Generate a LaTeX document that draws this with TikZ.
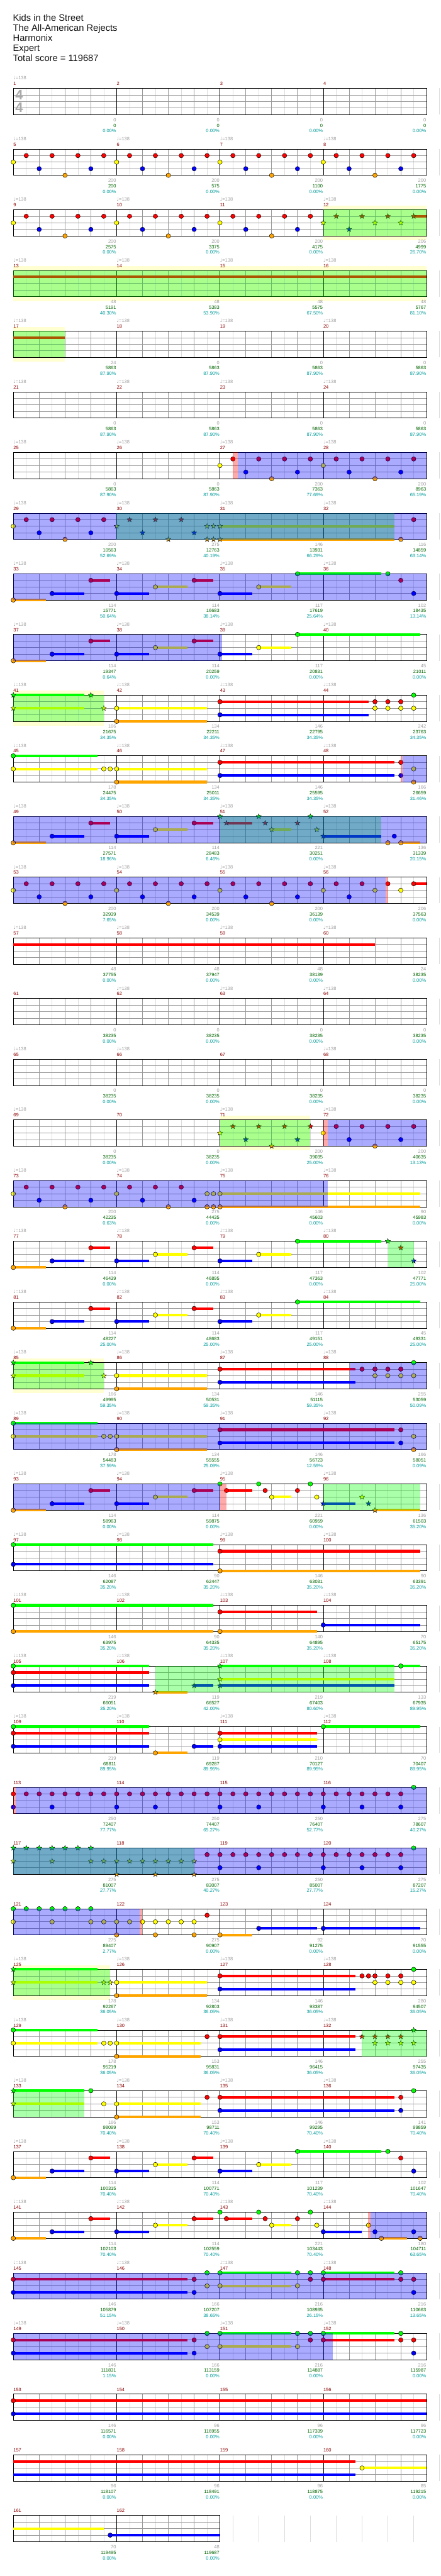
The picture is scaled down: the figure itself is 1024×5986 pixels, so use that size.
\documentclass[tikz,border=0pt]{standalone}
\usepackage{fontspec}
\setmainfont{Liberation Sans}
\newfontfamily\djv{DejaVu Sans}
\usetikzlibrary{shapes.geometric}
\definecolor{L0}{RGB}{0,255,0}
\definecolor{L1}{RGB}{255,0,0}
\definecolor{L2}{RGB}{255,255,0}
\definecolor{L3}{RGB}{0,0,255}
\definecolor{L4}{RGB}{255,165,0}
\definecolor{bandc}{RGB}{255,255,210}
\definecolor{gline}{RGB}{153,153,153}
\definecolor{hline}{RGB}{221,221,221}
\definecolor{mred}{RGB}{139,0,0}
\definecolor{sgray}{RGB}{160,160,160}
\definecolor{sgreen}{RGB}{0,100,0}
\definecolor{steal}{RGB}{0,155,155}
\definecolor{tsg}{RGB}{170,170,170}
\definecolor{hdr}{RGB}{20,20,20}

\newcommand{\setrow}[1]{\pgfmathsetmacro{\T}{205.3+141*(#1-1)}}
\newcommand{\grid}[1]{%
  \pgfmathsetmacro{\W}{240*#1}%
  \pgfmathtruncatemacro{\nh}{8*#1-1}%
  \foreach \k in {0,...,\nh} {\draw[hb] ({61+60*\k},\T) -- ++(0,61);}%
  \pgfmathtruncatemacro{\nb}{4*#1-1}%
  \foreach \k in {1,...,\nb} {\draw[bt] ({31+60*\k},\T) -- ++(0,61);}%
  \foreach \l in {1,2,3} {\draw[bt] (31,{\T+15.25*\l}) -- ++(\W,0);}%
  \pgfmathtruncatemacro{\nm}{#1-1}%
  \foreach \k in {1,...,\nm} {\draw[ml] ({31+240*\k},\T) -- ++(0,61);}%
  \draw[ml] (31,\T) rectangle ++(\W,61);}
\newcommand{\nt}[2]{\filldraw[nte, fill=L#2] ({31+60*(#1)},{\T+15.25*#2}) circle[radius=5.2];}
\newcommand{\sr}[2]{\node[strn, fill=L#2] at ({31+60*(#1)},{\T+15.25*#2}) {};}
\newcommand{\su}[3]{\fill[L#3] ({31+60*(#1)},{\T+15.25*#3-3}) rectangle ({31+60*(#2)},{\T+15.25*#3+3});}
\newcommand{\gov}[2]{\fill[green, opacity=0.333] ({31+60*(#1)},\T) rectangle ({31+60*(#2)},{\T+61});}
\newcommand{\bov}[2]{\fill[blue, opacity=0.333] ({31+60*(#1)},\T) rectangle ({31+60*(#2)},{\T+61});}
\newcommand{\pov}[2]{\fill[red, opacity=0.333] ({31+60*(#1)},\T) rectangle ({31+60*(#2)},{\T+61});}
\newcommand{\band}[2]{\fill[bandc] ({31+60*(#1)},{\T-10}) rectangle ({31+60*(#2)},{\T+71});}
\newcommand{\M}[6]{%
  \pgfmathsetmacro{\xs}{31+240*#1}%
  \pgfmathsetmacro{\xe}{30+240*(#1+1)}%
  \node[mnum] at (\xs,{\T-7}) {#2};%
  \ifnum#3=1\relax\node[tmp] at (\xs,{\T-20}) {{\djv ♩}=138};\fi
  \node[sa] at (\xe,{\T+77}) {#4};%
  \node[sb] at (\xe,{\T+90}) {#5};%
  \node[sc] at (\xe,{\T+103}) {#6};}
\newcommand{\patA}[1]{\nt{#1}{2}\nt{#1+0.5}{1}\nt{#1+1}{3}\nt{#1+1.5}{1}\nt{#1+2}{4}\nt{#1+2.5}{1}\nt{#1+3}{3}\nt{#1+3.5}{1}}
\newcommand{\patB}{\su{0}{1.25}{4}\su{1.5}{2.75}{3}\su{3}{3.75}{1}\su{4}{5.25}{3}\su{5.5}{6.75}{2}\su{7}{7.75}{1}\nt{0}{4}\nt{1.5}{3}\nt{3}{1}\nt{4}{3}\nt{5.5}{2}\nt{7}{1}}
\newcommand{\patC}{\su{8}{9.25}{3}\su{9.5}{10.75}{2}\nt{8}{3}\nt{9.5}{2}}
\newcommand{\patD}{\su{0}{6.75}{1}\su{0}{6.75}{3}\su{8}{10.75}{0}\su{8}{10.75}{2}\su{12}{14.75}{0}\su{12}{14.75}{1}%
  \nt{0}{1}\nt{0}{3}\nt{7}{1}\nt{7}{3}\nt{7.5}{0}\nt{7.5}{2}\nt{8}{0}\nt{8}{2}\nt{11}{0}\nt{11}{2}\nt{11.5}{0}\nt{11.5}{1}\nt{12}{0}\nt{12}{1}\nt{15}{0}\nt{15}{1}\nt{15.5}{1}\nt{15.5}{3}}
\newcommand{\patE}{\su{0}{3.25}{0}\su{0}{3.25}{2}\su{4}{7.5}{2}\su{4}{7.5}{4}\su{8}{14.75}{1}\su{8}{14.75}{3}%
  \nt{0}{0}\nt{0}{2}\nt{3.5}{2}\nt{3.75}{2}\nt{4}{2}\nt{4}{4}\nt{8}{1}\nt{8}{3}\nt{15}{1}\nt{15}{3}\nt{15.5}{2}\nt{15.5}{4}}

\begin{document}
\begin{tikzpicture}[x=1pt,y=-1pt,
  hb/.style={hline, line width=1pt},
  bt/.style={gline, line width=1pt},
  ml/.style={black, line width=1pt},
  nte/.style={draw=black, line width=0.7pt},
  strn/.style={star, star points=5, star point ratio=2.4, minimum size=12.5pt, inner sep=0pt, draw=black, line width=0.6pt},
  lab/.style={inner sep=0pt, font=\fontsize{11}{11}\selectfont},
  mnum/.style={lab, anchor=base west, text=mred},
  tmp/.style={lab, anchor=base west, text=sgray},
  sa/.style={lab, anchor=base east, text=sgray},
  sb/.style={lab, anchor=base east, text=sgreen},
  sc/.style={lab, anchor=base east, text=steal},
  ts/.style={inner sep=0pt, text=tsg, font=\fontsize{32}{32}\selectfont\bfseries},
  hd/.style={anchor=base west, inner sep=0pt, text=hdr, font=\fontsize{21.5}{23}\selectfont}]
\fill[white] (0,0) rectangle (1024,5986);
\useasboundingbox (0,0) rectangle (1024,5986);
\node[hd] (t1) at (30,49) {Kids in the Street};
\node[hd] (t2) at (30,72.2) {The All-American Rejects};
\node[hd] (t3) at (30,95.4) {Harmonix};
\node[hd] (t4) at (30,118.6) {Expert};
\node[hd] (t5) at (30,141.8) {Total score = 119687};

% row 1
\setrow{1}\grid{4}
\node[ts] at (44.5,{\T+15.7}) {4};\node[ts] at (44.5,{\T+44.7}) {4};
\M{0}{1}{1}{0}{0}{0.00\%}\M{1}{2}{0}{0}{0}{0.00\%}\M{2}{3}{0}{0}{0}{0.00\%}\M{3}{4}{0}{0}{0}{0.00\%}
% row 2
\setrow{2}\grid{4}\patA{0}\patA{4}\patA{8}\patA{12}
\M{0}{5}{1}{200}{200}{0.00\%}\M{1}{6}{1}{200}{575}{0.00\%}\M{2}{7}{1}{200}{1100}{0.00\%}\M{3}{8}{1}{200}{1775}{0.00\%}
% row 3
\setrow{3}\band{12}{16}\grid{4}\patA{0}\patA{4}\patA{8}\su{15.5}{16}{1}
\sr{12}{2}\sr{12.5}{1}\sr{13}{3}\sr{13.5}{1}\sr{14}{2}\sr{14.5}{1}\sr{15}{2}\sr{15.5}{1}
\gov{12}{16}
\M{0}{9}{1}{200}{2575}{0.00\%}\M{1}{10}{1}{200}{3375}{0.00\%}\M{2}{11}{1}{200}{4175}{0.00\%}\M{3}{12}{1}{206}{4999}{26.70\%}
% row 4
\setrow{4}\band{0}{16}\grid{4}\su{0}{16}{1}\gov{0}{16}
\M{0}{13}{1}{48}{5191}{40.30\%}\M{1}{14}{1}{48}{5383}{53.90\%}\M{2}{15}{1}{48}{5575}{67.50\%}\M{3}{16}{1}{48}{5767}{81.10\%}
% row 5
\setrow{5}\band{0}{2}\grid{4}\su{0}{2}{1}\gov{0}{2}
\M{0}{17}{1}{24}{5863}{87.90\%}\M{1}{18}{1}{0}{5863}{87.90\%}\M{2}{19}{1}{0}{5863}{87.90\%}\M{3}{20}{1}{0}{5863}{87.90\%}
% row 6
\setrow{6}\grid{4}
\M{0}{21}{1}{0}{5863}{87.90\%}\M{1}{22}{1}{0}{5863}{87.90\%}\M{2}{23}{1}{0}{5863}{87.90\%}\M{3}{24}{1}{0}{5863}{87.90\%}
% row 7
\setrow{7}\grid{4}\patA{8}\patA{12}\pov{8.5}{8.7}\bov{8.7}{16}
\M{0}{25}{1}{0}{5863}{87.90\%}\M{1}{26}{1}{0}{5863}{87.90\%}\M{2}{27}{1}{200}{7363}{77.69\%}\M{3}{28}{1}{200}{8963}{65.19\%}
% row 8
\setrow{8}\grid{4}\patA{0}\su{8}{14.75}{2}\su{8}{14.75}{4}
\sr{4}{2}\sr{4.5}{1}\sr{5}{3}\sr{5.5}{1}\sr{6}{4}\sr{6.5}{1}\sr{7}{3}\sr{7.5}{2}\sr{7.5}{4}\sr{7.75}{2}\sr{7.75}{4}\sr{8}{2}\sr{8}{4}
\nt{15}{4}\nt{15.5}{1}
\gov{4}{14.75}\bov{0}{16}
\M{0}{29}{1}{200}{10563}{52.69\%}\M{1}{30}{1}{275}{12763}{40.19\%}\M{2}{31}{1}{146}{13931}{66.29\%}\M{3}{32}{1}{116}{14859}{63.14\%}
% row 9
\setrow{9}\grid{4}\patB\patC\su{11}{14.25}{0}\nt{11}{0}\nt{14.5}{0}\nt{15}{1}\nt{15.5}{3}\bov{0}{16}
\M{0}{33}{1}{114}{15771}{50.64\%}\M{1}{34}{1}{114}{16683}{38.14\%}\M{2}{35}{1}{117}{17619}{25.64\%}\M{3}{36}{1}{102}{18435}{13.14\%}
% row 10
\setrow{10}\grid{4}\patB\patC\su{11}{15.75}{0}\nt{11}{0}\bov{0}{8.07}
\M{0}{37}{1}{114}{19347}{0.64\%}\M{1}{38}{1}{114}{20259}{0.00\%}\M{2}{39}{1}{117}{20831}{0.00\%}\M{3}{40}{1}{45}{21011}{0.00\%}
% row 11
\setrow{11}\band{0}{3.5}\grid{4}
\su{0}{2.75}{0}\su{0}{2.75}{2}\su{4}{7.5}{2}\su{4}{7.5}{4}\su{8}{13.75}{1}\su{8}{13.75}{3}
\sr{0}{0}\sr{3}{0}\sr{0}{2}\sr{3.5}{2}
\nt{4}{2}\nt{4}{4}\nt{8}{1}\nt{8}{3}\nt{14}{1}\nt{14.5}{1}\nt{15}{1}\nt{14}{2}\nt{14.5}{2}\nt{15}{2}\nt{15.5}{2}\nt{15.5}{0}
\gov{0}{3.5}
\M{0}{41}{1}{166}{21675}{34.35\%}\M{1}{42}{1}{134}{22211}{34.35\%}\M{2}{43}{1}{146}{22795}{34.35\%}\M{3}{44}{1}{242}{23763}{34.35\%}
% row 12
\setrow{12}\grid{4}\patE\pov{15}{15.07}\bov{15.07}{16}
\M{0}{45}{1}{178}{24475}{34.35\%}\M{1}{46}{1}{134}{25011}{34.35\%}\M{2}{47}{1}{146}{25595}{34.35\%}\M{3}{48}{1}{166}{26659}{31.46\%}
% row 13
\setrow{13}\grid{4}\patB
\su{8.25}{9.25}{1}\su{10}{10.75}{2}\su{12}{14.25}{3}\su{15}{15.75}{4}
\sr{8}{0}\sr{8.25}{1}\sr{9.5}{0}\sr{9.75}{1}\sr{10}{2}\sr{11}{1}\sr{11.5}{0}\sr{11.75}{2}\sr{12}{3}
\nt{14.5}{4}\nt{14.75}{3}\nt{15}{4}
\gov{8}{14.25}\bov{0}{16}
\M{0}{49}{1}{114}{27571}{18.96\%}\M{1}{50}{1}{114}{28483}{6.46\%}\M{2}{51}{1}{221}{30251}{0.00\%}\M{3}{52}{1}{136}{31339}{20.15\%}
% row 14
\setrow{14}\grid{4}\patA{0}\patA{4}\patA{8}\su{15.5}{16}{1}
\nt{12}{2}\nt{12.5}{1}\nt{13}{3}\nt{13.5}{1}\nt{14}{2}\nt{14.5}{1}\nt{15}{2}\nt{15.5}{1}
\bov{0}{14.42}\pov{14.42}{14.5}
\M{0}{53}{1}{200}{32939}{7.65\%}\M{1}{54}{1}{200}{34539}{0.00\%}\M{2}{55}{1}{200}{36139}{0.00\%}\M{3}{56}{1}{206}{37563}{0.00\%}
% row 15
\setrow{15}\grid{4}\su{0}{14}{1}
\M{0}{57}{1}{48}{37755}{0.00\%}\M{1}{58}{1}{48}{37947}{0.00\%}\M{2}{59}{1}{48}{38139}{0.00\%}\M{3}{60}{1}{24}{38235}{0.00\%}
% row 16
\setrow{16}\grid{4}
\M{0}{61}{0}{0}{38235}{0.00\%}\M{1}{62}{1}{0}{38235}{0.00\%}\M{2}{63}{1}{0}{38235}{0.00\%}\M{3}{64}{1}{0}{38235}{0.00\%}
% row 17
\setrow{17}\grid{4}
\M{0}{65}{1}{0}{38235}{0.00\%}\M{1}{66}{1}{0}{38235}{0.00\%}\M{2}{67}{0}{0}{38235}{0.00\%}\M{3}{68}{1}{0}{38235}{0.00\%}
% row 18
\setrow{18}\band{8}{11.5}\grid{4}
\sr{8}{2}\sr{8.5}{1}\sr{9}{3}\sr{9.5}{1}\sr{10}{4}\sr{10.5}{1}\sr{11}{3}\sr{11.5}{1}
\patA{12}
\gov{8}{11.5}\pov{12}{12.18}\bov{12.18}{16}
\M{0}{69}{1}{0}{38235}{0.00\%}\M{1}{70}{0}{0}{38235}{0.00\%}\M{2}{71}{1}{200}{39035}{25.00\%}\M{3}{72}{1}{200}{40635}{13.13\%}
% row 19
\setrow{19}\grid{4}\patA{0}\su{8}{15.75}{2}\su{8}{15.75}{4}
\nt{4}{2}\nt{4.5}{1}\nt{5}{3}\nt{5.5}{1}\nt{6}{4}\nt{6.5}{1}\nt{7}{3}
\nt{7.5}{2}\nt{7.5}{4}\nt{7.75}{2}\nt{7.75}{4}\nt{8}{2}\nt{8}{4}
\bov{0}{12.18}
\M{0}{73}{1}{200}{42235}{0.63\%}\M{1}{74}{1}{275}{44435}{0.00\%}\M{2}{75}{1}{146}{45603}{0.00\%}\M{3}{76}{1}{90}{45983}{0.00\%}
% row 20
\setrow{20}\grid{4}\patB\patC\su{11}{14.25}{0}\nt{11}{0}\sr{14.5}{0}\sr{15}{1}\sr{15.5}{3}\gov{14.5}{15.5}
\M{0}{77}{1}{114}{46439}{0.00\%}\M{1}{78}{1}{114}{46895}{0.00\%}\M{2}{79}{1}{117}{47363}{0.00\%}\M{3}{80}{1}{102}{47771}{25.00\%}
% row 21
\setrow{21}\grid{4}\patB\patC\su{11}{15.75}{0}\nt{11}{0}
\M{0}{81}{1}{114}{48227}{25.00\%}\M{1}{82}{1}{114}{48683}{25.00\%}\M{2}{83}{1}{117}{49151}{25.00\%}\M{3}{84}{1}{45}{49331}{25.00\%}
% row 22
\setrow{22}\band{0}{3.5}\grid{4}
\su{0}{2.75}{0}\su{0}{2.75}{2}\su{4}{7.5}{2}\su{4}{7.5}{4}\su{8}{13.25}{1}\su{8}{13.25}{3}
\sr{0}{0}\sr{3}{0}\sr{0}{2}\sr{3.5}{2}
\nt{4}{2}\nt{4}{4}\nt{8}{1}\nt{8}{3}\nt{13.5}{1}\nt{14}{1}\nt{14.5}{1}\nt{15}{1}\nt{14}{2}\nt{14.5}{2}\nt{15}{2}\nt{15.5}{2}\nt{15.5}{0}
\gov{0}{3.5}\bov{13.03}{16}
\M{0}{85}{1}{166}{49995}{59.35\%}\M{1}{86}{1}{134}{50531}{59.35\%}\M{2}{87}{1}{146}{51115}{59.35\%}\M{3}{88}{1}{255}{53059}{50.09\%}
% row 23
\setrow{23}\grid{4}\patE\bov{0}{16}
\M{0}{89}{1}{178}{54483}{37.59\%}\M{1}{90}{1}{134}{55555}{25.09\%}\M{2}{91}{1}{146}{56723}{12.59\%}\M{3}{92}{1}{166}{58051}{0.09\%}
% row 24
\setrow{24}\grid{4}\patB
\su{8.25}{9.25}{1}\su{10}{10.75}{2}\su{12}{13.25}{3}\su{14}{15.75}{4}
\nt{8}{0}\nt{8.25}{1}\nt{9.5}{0}\nt{9.75}{1}\nt{10}{2}\nt{11}{1}\nt{11.5}{0}\nt{11.75}{2}
\sr{12}{3}\sr{13.5}{2}\sr{13.75}{3}\sr{14}{4}
\bov{0}{8}\pov{8}{8.25}\gov{12}{15.75}
\M{0}{93}{1}{114}{58963}{0.00\%}\M{1}{94}{1}{114}{59875}{0.00\%}\M{2}{95}{1}{221}{60959}{0.00\%}\M{3}{96}{1}{136}{61503}{35.20\%}
% row 25
\setrow{25}\grid{4}\su{0}{7.75}{0}\su{0}{7.75}{3}\su{8}{15.75}{1}\su{8}{15.75}{4}\nt{0}{0}\nt{0}{3}\nt{8}{1}\nt{8}{4}
\M{0}{97}{1}{146}{62087}{35.20\%}\M{1}{98}{1}{90}{62447}{35.20\%}\M{2}{99}{1}{146}{63031}{35.20\%}\M{3}{100}{1}{90}{63391}{35.20\%}
% row 26
\setrow{26}\grid{4}\su{0}{7.75}{0}\su{0}{7.75}{4}\su{8}{11.75}{1}\su{8}{11.75}{4}\su{12}{15.75}{3}\nt{0}{0}\nt{0}{4}\nt{8}{1}\nt{8}{4}\nt{12}{3}
\M{0}{101}{1}{146}{63975}{35.20\%}\M{1}{102}{1}{90}{64335}{35.20\%}\M{2}{103}{1}{140}{64895}{35.20\%}\M{3}{104}{1}{70}{65175}{35.20\%}
% row 27
\setrow{27}\grid{4}
\su{0}{5.25}{0}\su{0}{5.25}{1}\su{0}{5.25}{3}\su{5.5}{6.75}{4}\su{7}{7.75}{3}\su{8}{14.75}{0}\su{8}{14.75}{2}\su{8}{14.75}{3}\su{15}{15.75}{0}
\nt{0}{0}\nt{0}{1}\nt{0}{3}\nt{15}{0}
\sr{5.5}{4}\sr{7}{3}\sr{8}{0}\sr{8}{2}\sr{8}{3}
\gov{5.5}{14.75}
\M{0}{105}{1}{219}{66051}{35.20\%}\M{1}{106}{1}{119}{66527}{42.00\%}\M{2}{107}{1}{219}{67403}{80.60\%}\M{3}{108}{1}{133}{67935}{89.95\%}
% row 28
\setrow{28}\grid{4}
\su{0}{5.25}{0}\su{0}{5.25}{1}\su{0}{5.25}{3}\su{5.5}{6.75}{4}\su{7}{7.75}{3}\su{8}{11.75}{1}\su{8}{11.75}{2}\su{8}{11.75}{3}\su{12}{15.75}{0}
\nt{0}{0}\nt{0}{1}\nt{0}{3}\nt{5.5}{4}\nt{7}{3}\nt{8}{1}\nt{8}{2}\nt{8}{3}\nt{12}{0}
\M{0}{109}{1}{219}{68811}{89.95\%}\M{1}{110}{1}{119}{69287}{89.95\%}\M{2}{111}{1}{210}{70127}{89.95\%}\M{3}{112}{1}{70}{70407}{89.95\%}
% row 29
\setrow{29}\grid{4}
\foreach \b in {0,0.5,...,15}{\nt{\b}{1}}
\foreach \b in {0,1.5,4,5.5,8,9.5,12,13.5,15}{\nt{\b}{3}}
\nt{15.5}{0}
\pov{0}{0.09}\bov{0.09}{16}
\M{0}{113}{0}{250}{72407}{77.77\%}\M{1}{114}{0}{250}{74407}{65.27\%}\M{2}{115}{0}{250}{76407}{52.77\%}\M{3}{116}{0}{275}{78607}{40.27\%}
% row 30
\setrow{30}\grid{4}
\foreach \b in {0,0.5,...,3}{\sr{\b}{0}}
\foreach \b in {0,1.5,3,3.5,4,4.5,5,5.5,6,6.5,7}{\sr{\b}{2}}
\foreach \b in {4,5.5,7}{\sr{\b}{4}}
\foreach \b in {7.5,8,...,15}{\nt{\b}{1}}
\foreach \b in {8,9.5,12,13.5,15}{\nt{\b}{3}}
\nt{15.5}{0}
\gov{0}{7}\bov{0}{16}
\M{0}{117}{0}{275}{81007}{27.77\%}\M{1}{118}{0}{275}{83007}{40.27\%}\M{2}{119}{0}{250}{85007}{27.77\%}\M{3}{120}{0}{275}{87207}{15.27\%}
% row 31
\setrow{31}\grid{4}
\su{8}{9.25}{4}\su{9.5}{11.75}{3}\su{12}{15.75}{3}
\foreach \b in {0,0.5,...,3}{\nt{\b}{0}}
\foreach \b in {0,1.5,3,3.5,4,4.5,5,5.5,6,6.5,7}{\nt{\b}{2}}
\foreach \b in {4,5.5,7}{\nt{\b}{4}}
\nt{7.5}{1}\nt{8}{4}\nt{9.5}{3}\nt{12}{3}
\bov{0}{4.88}\pov{4.88}{5}
\M{0}{121}{0}{275}{89407}{2.77\%}\M{1}{122}{0}{275}{90907}{0.00\%}\M{2}{123}{0}{92}{91275}{0.00\%}\M{3}{124}{0}{70}{91555}{0.00\%}
% row 32
\setrow{32}\band{0}{3.75}\grid{4}
\su{0}{3.25}{0}\su{0}{3.25}{2}\su{4}{7.5}{2}\su{4}{7.5}{4}\su{8}{13.25}{1}\su{8}{13.25}{3}
\sr{0}{0}\sr{0}{2}\sr{3.5}{2}\sr{3.75}{2}
\nt{4}{2}\nt{4}{4}\nt{8}{1}\nt{8}{3}
\foreach \b in {13.5,13.75,14,14.5,15}{\nt{\b}{1}}
\foreach \b in {14,14.5,15,15.5}{\nt{\b}{2}}
\nt{15.5}{0}
\gov{0}{3.75}
\M{0}{125}{1}{178}{92267}{36.05\%}\M{1}{126}{1}{134}{92803}{36.05\%}\M{2}{127}{1}{146}{93387}{36.05\%}\M{3}{128}{1}{280}{94507}{36.05\%}
% row 33
\setrow{33}\grid{4}
\su{0}{3.25}{0}\su{0}{3.25}{2}\su{4}{7.25}{2}\su{4}{7.25}{4}\su{8}{13.25}{1}\su{8}{13.25}{3}
\nt{0}{0}\nt{0}{2}\nt{3.5}{2}\nt{3.75}{2}\nt{4}{2}\nt{4}{4}\nt{7.5}{1}\nt{8}{1}\nt{8}{3}
\foreach \b in {13.5,14,14.5,15}{\sr{\b}{1}}
\foreach \b in {14,14.5,15,15.5}{\sr{\b}{2}}
\sr{15.5}{0}
\gov{13.5}{16}
\M{0}{129}{1}{178}{95219}{36.05\%}\M{1}{130}{1}{153}{95831}{36.05\%}\M{2}{131}{1}{146}{96415}{36.05\%}\M{3}{132}{1}{255}{97435}{36.05\%}
% row 34
\setrow{34}\grid{4}
\su{0}{2.75}{0}\su{0}{2.75}{2}\su{4}{7.25}{2}\su{4}{7.25}{4}\su{8}{14.75}{1}\su{8}{14.75}{3}
\sr{0}{0}\sr{0}{2}
\nt{3}{0}\nt{3.5}{2}\nt{4}{2}\nt{4}{4}\nt{7.5}{1}\nt{8}{1}\nt{8}{3}\nt{15}{1}\nt{15}{3}\nt{15.5}{0}
\gov{0}{2.75}
\M{0}{133}{1}{166}{98099}{70.40\%}\M{1}{134}{1}{153}{98711}{70.40\%}\M{2}{135}{1}{146}{99295}{70.40\%}\M{3}{136}{1}{141}{99859}{70.40\%}
% row 35
\setrow{35}\grid{4}\patB\patC\su{11}{14.25}{0}\nt{11}{0}\nt{14.5}{0}\nt{15}{1}\nt{15.5}{3}
\M{0}{137}{1}{114}{100315}{70.40\%}\M{1}{138}{1}{114}{100771}{70.40\%}\M{2}{139}{1}{117}{101239}{70.40\%}\M{3}{140}{1}{102}{101647}{70.40\%}
% row 36
\setrow{36}\grid{4}\patB
\su{8.25}{9.25}{1}\su{10}{10.75}{2}\su{12}{13.5}{3}\su{14.25}{15.25}{4}
\nt{8}{0}\nt{8.25}{1}\nt{9.5}{0}\nt{9.75}{1}\nt{10}{2}\nt{11}{1}\nt{11.5}{0}\nt{11.75}{2}\nt{12}{3}\nt{13.75}{2}\nt{14}{3}\nt{14.25}{4}\nt{15.5}{3}\nt{15.75}{4}
\pov{13.73}{13.82}\bov{13.82}{16}
\M{0}{141}{1}{114}{102103}{70.40\%}\M{1}{142}{1}{114}{102559}{70.40\%}\M{2}{143}{1}{221}{103443}{70.40\%}\M{3}{144}{1}{180}{104711}{63.65\%}
% row 37
\setrow{37}\grid{4}\patD\bov{0}{16}
\M{0}{145}{1}{146}{105879}{51.15\%}\M{1}{146}{1}{166}{107207}{38.65\%}\M{2}{147}{1}{216}{108935}{26.15\%}\M{3}{148}{1}{216}{110663}{13.65\%}
% row 38
\setrow{38}\grid{4}\patD\bov{0}{12.37}
\M{0}{149}{1}{146}{111831}{1.15\%}\M{1}{150}{1}{166}{113159}{0.00\%}\M{2}{151}{1}{216}{114887}{0.00\%}\M{3}{152}{1}{216}{115987}{0.00\%}
% row 39
\setrow{39}\grid{4}\su{0}{16}{1}\su{0}{16}{3}\nt{0}{1}\nt{0}{3}
\M{0}{153}{0}{146}{116571}{0.00\%}\M{1}{154}{0}{96}{116955}{0.00\%}\M{2}{155}{0}{96}{117339}{0.00\%}\M{3}{156}{0}{96}{117723}{0.00\%}
% row 40
\setrow{40}\grid{4}\su{0}{13.25}{1}\su{0}{13.25}{3}\su{13.5}{16}{2}\nt{13.5}{2}
\M{0}{157}{0}{96}{118107}{0.00\%}\M{1}{158}{0}{96}{118491}{0.00\%}\M{2}{159}{0}{96}{118875}{0.00\%}\M{3}{160}{0}{85}{119215}{0.00\%}
% row 41
\setrow{41}\grid{2}\su{0}{3.5}{2}\su{3.75}{8}{3}\nt{3.75}{3}
\M{0}{161}{0}{70}{119495}{0.00\%}\M{1}{162}{0}{48}{119687}{0.00\%}
\end{tikzpicture}
\end{document}
